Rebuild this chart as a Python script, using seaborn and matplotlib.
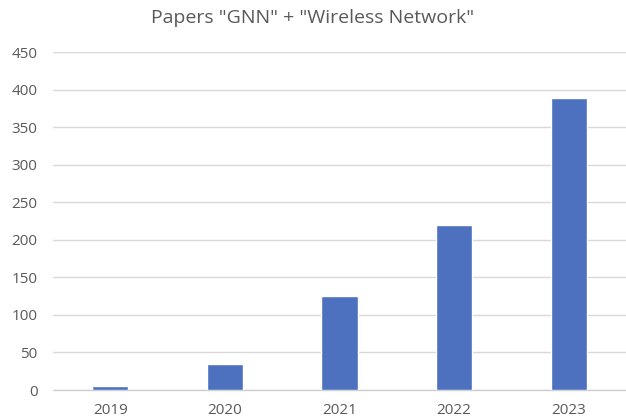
import matplotlib
matplotlib.use("Agg")
import matplotlib.pyplot as plt
import seaborn as sns
import pandas as pd

years = ["2019", "2020", "2021", "2022", "2023"]
papers = [5, 34, 125, 220, 389]
y_ticks = [0, 50, 100, 150, 200, 250, 300, 350, 400, 450]

sns.set_theme(style="white")
plt.rcParams["font.family"] = ["Open Sans", "DejaVu Sans"]

df = pd.DataFrame({"year": years, "papers": papers})

fig = plt.figure(figsize=(6.26, 4.2), dpi=100)
ax = fig.add_axes([53 / 626, 1 - 390 / 420, 573 / 626, 338 / 420])

sns.barplot(data=df, x="year", y="papers", color="#4D71BF", width=0.315,
            saturation=1, ax=ax, zorder=3)

ax.set_ylim(0, 450)
ax.set_yticks(y_ticks)
ax.set_xlim(-0.5, len(years) - 0.5)
ax.grid(axis="y", color="#D9D9D9", linewidth=1, zorder=0)
for s in ["top", "right", "left"]:
    ax.spines[s].set_visible(False)
ax.spines["bottom"].set_color("#D0D0D0")
ax.spines["bottom"].set_linewidth(1)
ax.tick_params(axis="both", length=0, colors="#595959", labelsize=11)
ax.tick_params(axis="y", pad=11)
ax.tick_params(axis="x", pad=9)
ax.set_xlabel("")
ax.set_ylabel("")

fig.text(0.5, 1 - 18 / 420, 'Papers "GNN" + "Wireless Network"', ha="center",
         va="center", fontsize=14, color="#595959")

fig.savefig("out.png", dpi=100)
